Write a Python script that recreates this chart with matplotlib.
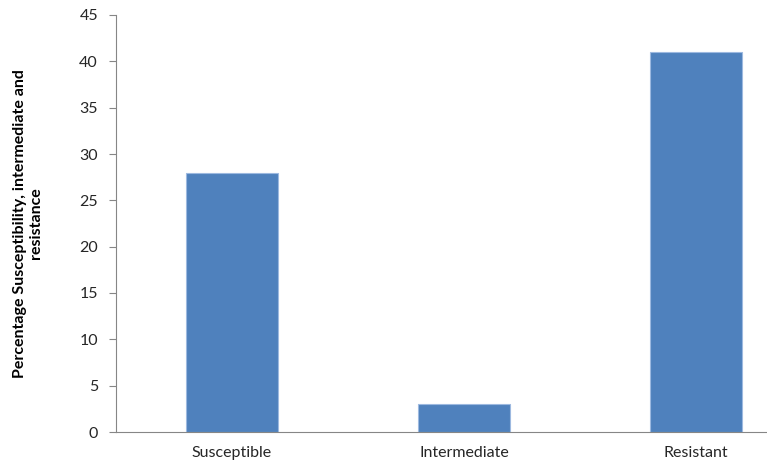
import matplotlib
matplotlib.use("Agg")
import matplotlib.pyplot as plt

categories = ["Susceptible", "Intermediate", "Resistant"]
values = [28, 3, 41]

plt.rcParams['font.family'] = ['Lato', 'DejaVu Sans']

fig = plt.figure(figsize=(7.67, 4.66), dpi=100)
ax = fig.add_axes([116 / 767, 1 - 432 / 466, 696 / 767, 417 / 466])

x = range(len(categories))
ax.bar(x, values, width=0.4, color="#4F81BD", edgecolor="#9DB9E0", linewidth=0.8)

ax.set_xlim(-0.5, 2.5)
ax.set_ylim(0, 45)
ax.set_yticks(range(0, 46, 5))
ax.set_xticks(list(x))
ax.set_xticklabels(categories)

for s in ["top", "right"]:
    ax.spines[s].set_visible(False)
for s in ["left", "bottom"]:
    ax.spines[s].set_color("#868686")
ax.tick_params(axis="y", length=5, color="#868686", labelsize=11.5, labelcolor="#262626", pad=8)
ax.tick_params(axis="x", length=0, labelsize=11.5, labelcolor="#262626", pad=10)

ax.set_ylabel("Percentage Susceptibility, intermediate and\nresistance",
              fontsize=11.5, fontweight="bold", labelpad=26, multialignment="center")

fig.savefig("out.png", dpi=100)
